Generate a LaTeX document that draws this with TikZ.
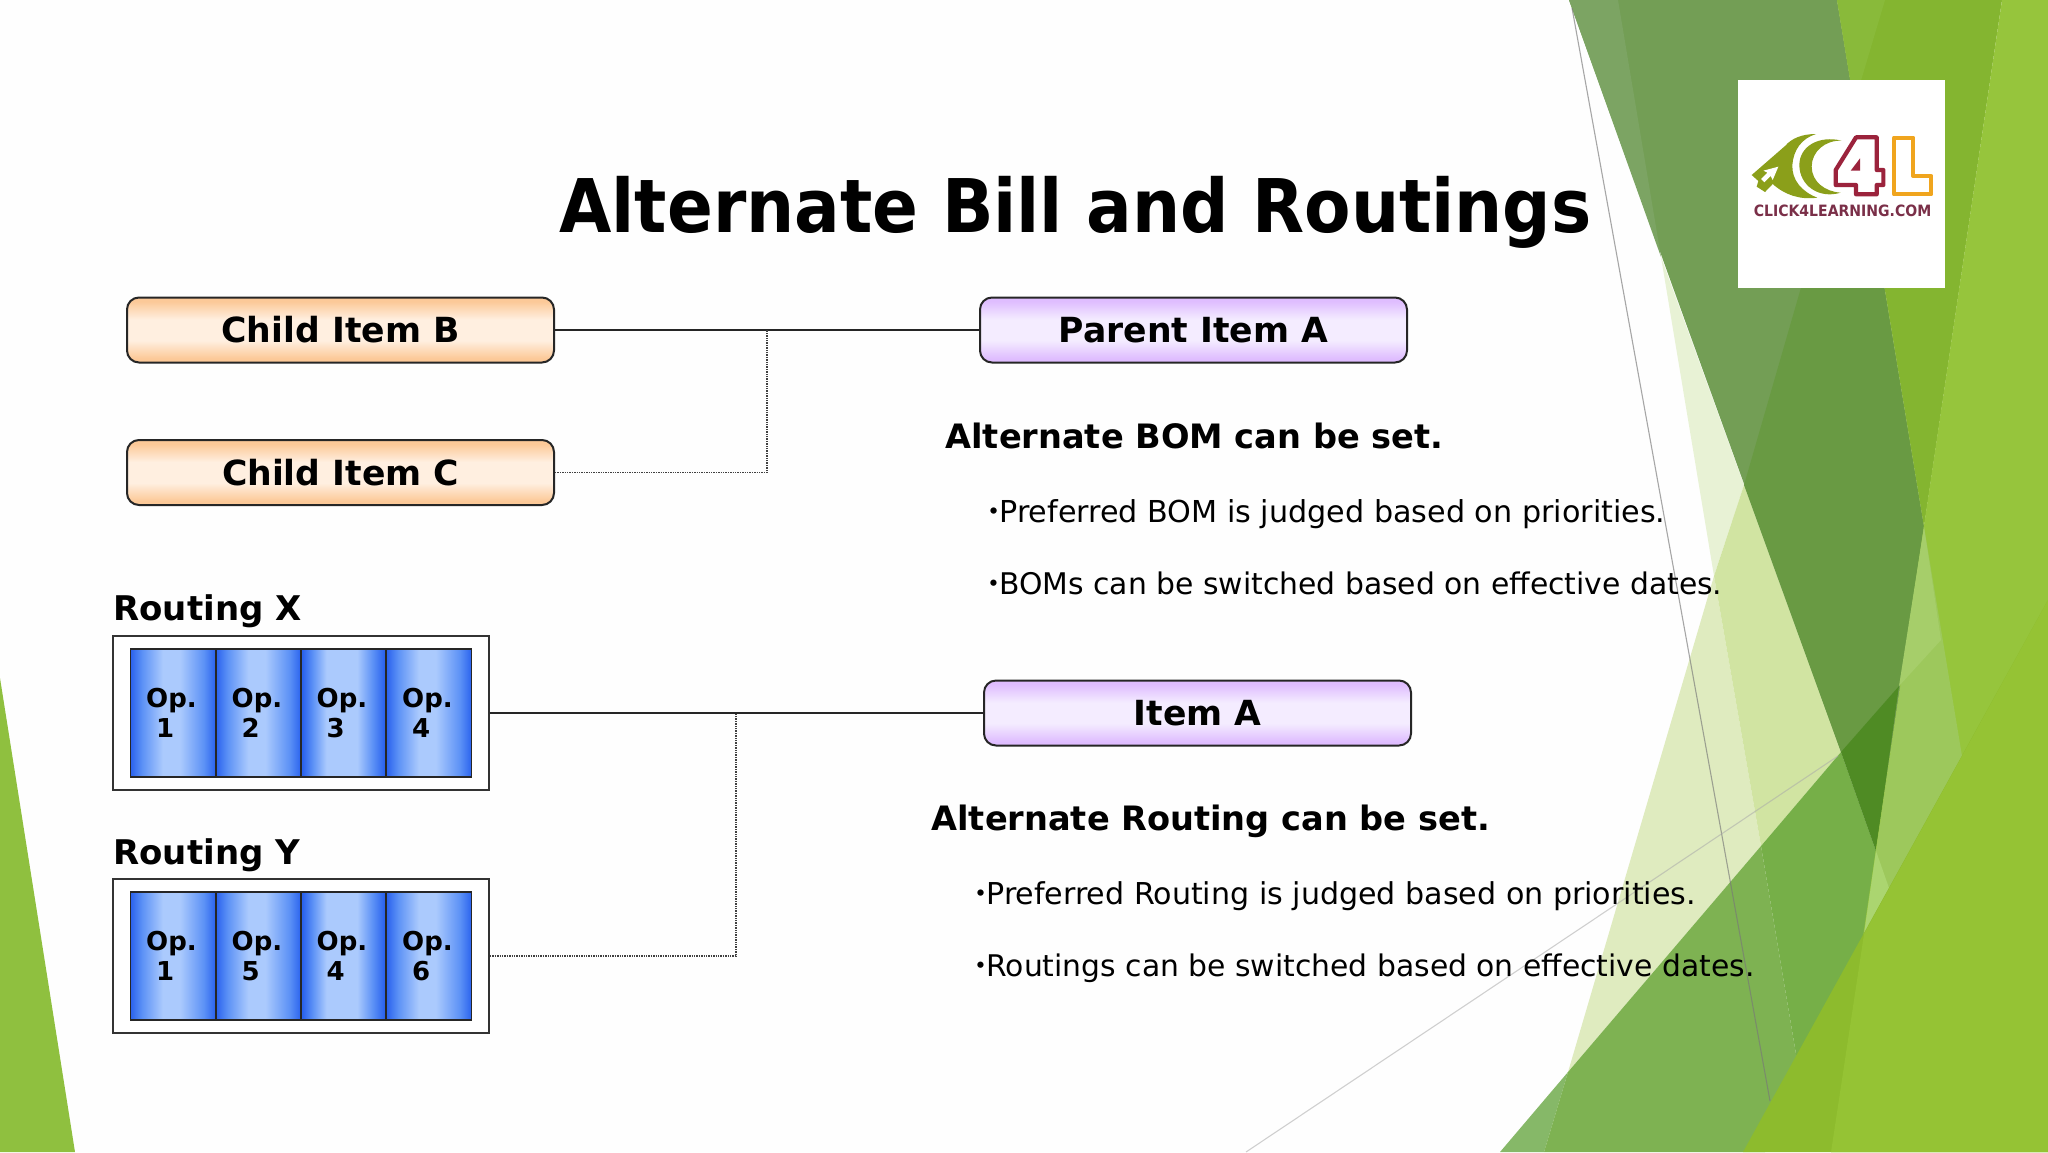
\documentclass[tikz,border=0pt]{standalone}
\usepackage{fontspec}
\setmainfont{DejaVu Sans}
\newfontfamily\cjk{Noto Sans CJK JP}
\definecolor{pkA}{HTML}{FCC998}\definecolor{pkB}{HTML}{FFEFE0}
\definecolor{puA}{HTML}{DFBDFF}\definecolor{puB}{HTML}{F4ECFF}
\definecolor{opA}{HTML}{2A62EE}\definecolor{opB}{HTML}{5D92F6}\definecolor{opC}{HTML}{ABCAFD}
\definecolor{pagebg}{HTML}{FEFEFE}
\definecolor{logotxt}{HTML}{7A2F48}
\pgfdeclareverticalshading{peachband}{100bp}{color(0bp)=(pkA);color(28bp)=(pkA);color(42bp)=(pkB);color(58bp)=(pkB);color(72bp)=(pkA);color(100bp)=(pkA)}
\pgfdeclareverticalshading{purpleband}{100bp}{color(0bp)=(puA);color(28bp)=(puA);color(42bp)=(puB);color(58bp)=(puB);color(72bp)=(puA);color(100bp)=(puA)}
\pgfdeclarehorizontalshading{opband}{100bp}{color(0bp)=(opA);color(25bp)=(opA);color(32bp)=(opB);color(44bp)=(opC);color(54bp)=(opC);color(68bp)=(opB);color(75bp)=(opA);color(100bp)=(opA)}
\pgfdeclarehorizontalshading{opbandwide}{100bp}{color(0bp)=(opA);color(26bp)=(opA);color(32bp)=(opB);color(40bp)=(opC);color(58bp)=(opC);color(67bp)=(opB);color(74bp)=(opA);color(100bp)=(opA)}
\tikzset{
  itembox/.style={draw=black!85,line width=1pt,rounded corners=6pt,minimum height=32.5pt,inner sep=0pt,font=\fontsize{17.3}{20}\selectfont\bfseries},
  childbox/.style={itembox,shading=peachband,minimum width=213.5pt},
  parentbox/.style={itembox,shading=purpleband,minimum width=213.5pt},
  frame/.style={draw=black!80,fill=white,line width=0.9pt,minimum width=188pt,minimum height=77pt,inner sep=0pt},
  opbox/.style={draw=black!85,line width=0.8pt,shading=opband,minimum width=42.6pt,minimum height=64pt,inner sep=0pt,align=left,font=\fontsize{13}{15}\selectfont\bfseries},
  solidlink/.style={draw=black!85,line width=0.9pt},
  dotlink/.style={draw=black!75,line width=0.6pt,dash pattern=on 0.7pt off 0.5pt},
  heading/.style={anchor=base west,inner sep=0pt,font=\fontsize{16.8}{20}\selectfont\bfseries},
  bullet/.style={anchor=base west,inner sep=0pt},
  routelabel/.style={anchor=base west,inner sep=0pt,font=\fontsize{17}{20}\selectfont\bfseries},
}
\newcommand{\pdot}{\llap{{\cjk\bfseries ･}\hspace{-1pt}}}
\newcommand{\opt}[1]{Op.\hspace*{1.5pt}\\\hspace*{5pt}#1}
\newcommand{\bsize}[1]{\fontsize{#1}{18}\selectfont}
\newcommand{\lift}[1]{\raisebox{-0.6pt}{#1}}
\begin{document}
\begin{tikzpicture}[x=0.5pt,y=-0.5pt]
\useasboundingbox (0,0) rectangle (2048,1152);
\fill[pagebg] (0,0) rectangle (2048,1152);
% left wedge
\fill[color={rgb,255:red,143;green,192;blue,63}] (0,678) -- (0,1152) -- (75,1152) -- cycle;
% pale wedges
\fill[color={rgb,255:red,232;green,242;blue,213}] (1661,257) -- (1744,485) -- (1714,576) -- cycle;
\fill[color={rgb,255:red,223;green,235;blue,191}] (1714,576) -- (1761,846) -- (1568,1072) -- cycle;
\fill[color={rgb,255:red,209;green,228;blue,162}] (1714,576) -- (1744,485) -- (1841,752) -- (1761,846) -- cycle;
% medium green
\fill[color={rgb,255:red,134;green,184;blue,104}] (1500,1152) -- (1568,1072) -- (1544,1152) -- cycle;
\fill[color={rgb,255:red,126;green,178;blue,82}] (1544,1152) -- (1568,1072) -- (1761,846) -- (1802,1090) -- (1765,1152) -- cycle;
\fill[color={rgb,255:red,118;green,175;blue,72}] (1761,846) -- (1841,752) -- (1876,851) -- (1875,940) -- (1802,1090) -- cycle;
% dark top
\fill[color={rgb,255:red,115;green,158;blue,85}] (1569,0) -- (1837,0) -- (1924,527) -- (1876,851) -- (1841,752) -- cycle;
\fill[color={rgb,255:red,124;green,164;blue,99}] (1569,0) -- (1618,0) -- (1661,257) -- cycle;
\fill[color={rgb,255:red,105;green,154;blue,67}] (1854,104) -- (1924,527) -- (1899,686) -- (1841,752) -- (1744,485) -- cycle;
\fill[color={rgb,255:red,79;green,139;blue,36}] (1841,752) -- (1899,686) -- (1876,851) -- cycle;
% bright
\fill[color={rgb,255:red,132;green,181;blue,48}] (1837,0) -- (2002,0) -- (1924,527) -- cycle;
\fill[color={rgb,255:red,137;green,186;blue,58}] (1837,0) -- (1885,0) -- (1854,104) -- cycle;
\fill[color={rgb,255:red,150;green,197;blue,60}] (2002,0) -- (2048,0) -- (2048,1152) -- (1831,1152) -- cycle;
\fill[color={rgb,255:red,157;green,200;blue,92}] (1924,527) -- (1962,756) -- (1864,934) -- (1876,851) -- cycle;
\fill[color={rgb,255:red,166;green,206;blue,106}] (1924,527) -- (1941,640) -- (1899,686) -- cycle;
\fill[color={rgb,255:red,171;green,213;blue,112}] (1876,851) -- (1889,888) -- (1864,934) -- cycle;
\fill[color={rgb,255:red,141;green,187;blue,45}] (2048,600) -- (2048,1152) -- (1743,1152) -- cycle;
\fill[color={rgb,255:red,149;green,195;blue,52}] (1864,934) -- (2048,600) -- (2048,1152) -- (1831,1152) -- cycle;
% thin lines
\draw[color={rgb,255:red,120;green,120;blue,120},opacity=0.65,line width=0.55pt] (1572,8) -- (1770,1101);
\draw[color={rgb,255:red,170;green,170;blue,170},opacity=0.55,line width=0.55pt] (1838,756) -- (1246,1152);
% logo
\fill[white] (1738,80) rectangle (1945,288);
\begin{scope}[shift={(1730,70)},x=0.16667pt,y=-0.16667pt]
  \fill[color={rgb,255:red,139;green,159;blue,26}] (258,192) .. controls (215,192) and (185,205) .. (165,228) -- (65,315) -- (85,333) -- (80,350) -- (105,366) -- (128,342) .. controls (165,375) and (210,390) .. (262,383) .. controls (215,365) and (185,330) .. (187,285) .. controls (190,240) and (215,205) .. (258,192) -- cycle;
  \fill[white] (145,290) -- (128,330) -- (122,318) -- (103,337) -- (93,327) -- (112,308) -- (100,302) -- cycle;
  \fill[color={rgb,255:red,139;green,159;blue,26}] (335,212) .. controls (265,195) and (208,230) .. (208,285) .. controls (208,345) and (265,388) .. (332,368) .. controls (285,365) and (245,335) .. (245,290) .. controls (245,245) and (285,210) .. (335,212) -- cycle;
  \draw[color={rgb,255:red,155;green,35;blue,60},line width=2.1pt,line join=round,fill=white] (378,202) -- (440,202) -- (440,300) -- (460,300) -- (460,345) -- (440,345) -- (440,373) -- (378,373) -- (378,345) -- (317,345) -- (317,300) -- cycle;
  \fill[color={rgb,255:red,155;green,35;blue,60}] (362,302) -- (390,265) -- (390,302) -- cycle;
  \draw[color={rgb,255:red,240;green,165;blue,30},line width=2.1pt,line join=round,fill=white] (492,203) -- (550,203) -- (550,318) -- (604,318) -- (604,373) -- (492,373) -- cycle;
\end{scope}
\node[inner sep=0pt,text=logotxt,font=\fontsize{7.8}{10}\selectfont\bfseries] (logotext) at (1842.5,211) {\scalebox{0.9}[1]{CLICK4LEARNING.COM}};
% title
\node[anchor=base west,inner sep=0pt,font=\fontsize{37}{44}\selectfont\bfseries] (title) at (559,232) {\scalebox{0.914}[1]{Alternate Bill and Routings}};
% BOM
\node[childbox] (childB) at (340.5,330) {\lift{Child Item B}};
\node[childbox] (childC) at (340.5,472.5) {\lift{Child Item C}};
\node[parentbox] (parentA) at (1193.5,330) {\lift{Parent Item A}};
\coordinate (jA) at (767,330);
\draw[solidlink] (childB) -- (parentA);
\draw[dotlink] (childC) -| (jA);
% routing
\node[routelabel] (labelX) at (113,620) {Routing X};
\node[routelabel] (labelY) at (113,864) {Routing Y};
\node[frame] (frameX) at (301,713) {};
\node[frame] (frameY) at (301,956) {};
\node[opbox] (x1) at (173,713) {\opt{1}};
\node[opbox] (x2) at (258.5,713) {\opt{2}};
\node[opbox,shading=opbandwide] (x3) at (343.5,713) {\opt{3}};
\node[opbox] (x4) at (429,713) {\opt{4}};
\node[opbox] (y1) at (173,956) {\opt{1}};
\node[opbox] (y2) at (258.5,956) {\opt{5}};
\node[opbox,shading=opbandwide] (y3) at (343.5,956) {\opt{4}};
\node[opbox] (y4) at (429,956) {\opt{6}};
\node[parentbox] (itemA) at (1197.5,713) {\lift{Item A}};
\coordinate (jB) at (736,713);
\draw[solidlink] (frameX) -- (itemA);
\draw[dotlink] (frameY) -| (jB);
% texts
\node[heading] (h1) at (945,448.5) {Alternate BOM can be set.};
\node[bullet] (b1) at (999,522) {\bsize{15.1}\pdot Preferred BOM is judged based on priorities.};
\node[bullet] (b2) at (999,594) {\bsize{14.9}\pdot BOMs can be switched based on effective dates.};
\node[heading] (h2) at (931,830.5) {Alternate Routing can be set.};
\node[bullet] (b3) at (986,904) {\bsize{15.05}\pdot Preferred Routing is judged based on priorities.};
\node[bullet] (b4) at (986,976) {\bsize{14.9}\pdot Routings can be switched based on effective dates.};
\end{tikzpicture}
\end{document}
